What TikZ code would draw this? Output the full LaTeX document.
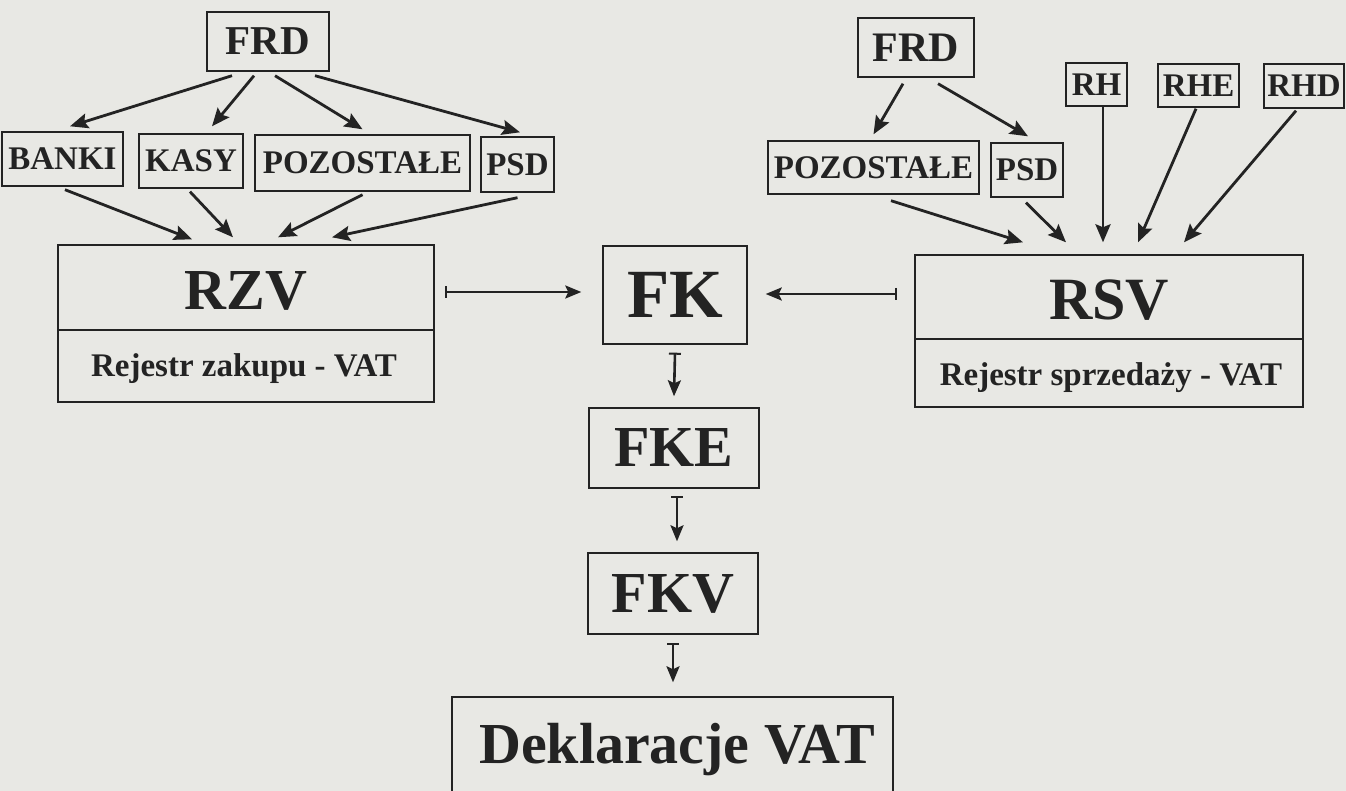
\documentclass[tikz,border=0pt]{standalone}
\usepackage{fontspec}
\setmainfont{Liberation Serif}
\usetikzlibrary{arrows.meta}
\definecolor{paper}{RGB}{232,232,228}
\definecolor{ink}{RGB}{35,35,35}
\newcommand{\myfs}[1]{\fontsize{#1}{#1}\selectfont\bfseries}
\begin{document}
\begin{tikzpicture}[x=1pt,y=-1pt,
  box/.style={draw=ink, line width=1.4pt, inner sep=0pt, text=ink},
  sm/.style={box, font=\myfs{33pt}},
  lbl/.style={text=ink, inner sep=0pt, anchor=base},
  arr/.style={draw=ink, line width=2.8pt, -{Stealth[length=18pt,width=15pt,inset=3pt]}},
  bararr/.style={draw=ink, line width=2.6pt, {Bar[width=12pt,line width=2pt]}-{Stealth[length=16pt,width=13pt,inset=3pt]}},
]
\fill[paper] (0,0) rectangle (1346,791);
\clip (0,0) rectangle (1346,791);

% ---------- left group ----------
\node[box, font=\myfs{41pt}, minimum width=122pt, minimum height=59pt] (frdL) at (268,41.5) {FRD};
\node[sm, minimum width=121pt, minimum height=54pt] (banki) at (62.5,159) {BANKI};
\node[sm, minimum width=104pt, minimum height=54pt] (kasy) at (191,161) {KASY};
\node[sm, minimum width=215pt, minimum height=56pt] (pozL) at (362.5,163) {POZOSTAŁE};
\node[sm, minimum width=73pt, minimum height=55pt] (psdL) at (517.5,164.5) {PSD};

\node[box, minimum width=376pt, minimum height=157pt] (rzv) at (246,323.5) {};
\coordinate (rzvdiv) at (246,330);
\draw[ink, line width=1.4pt] (rzv.west |- rzvdiv) -- (rzv.east |- rzvdiv);
\node[lbl, font=\myfs{58pt}] (rzvT) at (246,310) {RZV};
\node[lbl, font=\myfs{33pt}] (rzvB) at (244,377) {Rejestr zakupu - VAT};

\draw[arr] ([xshift=-36pt,yshift=-4pt]frdL.south) -- ([xshift=7.5pt,yshift=5pt]banki.north);
\draw[arr] ([xshift=-14pt,yshift=-4pt]frdL.south) -- ([xshift=21pt,yshift=7pt]kasy.north);
\draw[arr] ([xshift=7pt,yshift=-4pt]frdL.south) -- ([yshift=5pt]pozL.north);
\draw[arr] ([xshift=47pt,yshift=-4pt]frdL.south) -- ([xshift=2.5pt,yshift=4pt]psdL.north);

\draw[arr] ([xshift=2.5pt,yshift=-3pt]banki.south) -- ([xshift=-54pt,yshift=5pt]rzv.north);
\draw[arr] ([xshift=-1pt,yshift=-3pt]kasy.south) -- ([xshift=-13pt,yshift=7pt]rzv.north);
\draw[arr] ([yshift=-3pt]pozL.south) -- ([xshift=32pt,yshift=7pt]rzv.north);
\draw[arr] ([yshift=-5pt]psdL.south) -- ([xshift=86pt,yshift=7pt]rzv.north);

% ---------- right group ----------
\node[box, font=\myfs{42pt}, minimum width=116pt, minimum height=59pt] (frdR) at (916,47.5) {FRD};
\node[sm, minimum width=211pt, minimum height=53pt] (pozR) at (873.5,167.5) {POZOSTAŁE};
\node[sm, minimum width=72pt, minimum height=54pt] (psdR) at (1027,170) {PSD};
\node[sm, minimum width=61pt, minimum height=43pt] (rh) at (1096.5,84.5) {RH};
\node[sm, minimum width=81pt, minimum height=43pt] (rhe) at (1198.5,85.5) {RHE};
\node[sm, minimum width=80pt, minimum height=44pt] (rhd) at (1304,86) {RHD};

\node[box, minimum width=388pt, minimum height=152pt] (rsv) at (1109,331) {};
\coordinate (rsvdiv) at (1109,339);
\draw[ink, line width=1.4pt] (rsv.west |- rsvdiv) -- (rsv.east |- rsvdiv);
\node[lbl, font=\myfs{60pt}] (rsvT) at (1109,320) {RSV};
\node[lbl, font=\myfs{33pt}] (rsvB) at (1111,385) {Rejestr sprzedaży - VAT};

\draw[arr] ([xshift=-13pt,yshift=-6pt]frdR.south) -- ([yshift=6pt]pozR.north);
\draw[arr] ([xshift=22pt,yshift=-6pt]frdR.south) -- ([xshift=1pt,yshift=6pt]psdR.north);

\draw[arr] ([xshift=17.5pt,yshift=-6pt]pozR.south) -- ([xshift=-86pt,yshift=12pt]rsv.north);
\draw[arr] ([xshift=-1pt,yshift=-5pt]psdR.south) -- ([xshift=-43pt,yshift=12pt]rsv.north);
\draw[arr] ([xshift=6.5pt]rh.south) -- ([xshift=-6pt,yshift=12pt]rsv.north);
\draw[arr] ([xshift=-2.5pt,yshift=-1pt]rhe.south) -- ([xshift=29pt,yshift=12pt]rsv.north);
\draw[arr] ([xshift=-8pt,yshift=-2pt]rhd.south) -- ([xshift=75pt,yshift=12pt]rsv.north);

% ---------- middle column ----------
\node[box, font=\myfs{69pt}, minimum width=144pt, minimum height=98pt] (fk) at (675,295) {FK};
\node[box, font=\myfs{58pt}, minimum width=170pt, minimum height=80pt] (fke) at (674,448) {FKE};
\node[box, font=\myfs{58pt}, minimum width=170pt, minimum height=81pt] (fkv) at (673,593.5) {FKV};
\node[box, minimum width=441pt, minimum height=100pt] (dek) at (672.5,747) {};
\node[lbl, font=\myfs{58pt}] (dekT) at (677,763) {Deklaracje VAT};

\draw[bararr] ([xshift=10pt,yshift=3pt]rzv.east |- fk.west) -- ([xshift=-21pt,yshift=3pt]fk.west);
\draw[bararr] ([xshift=-17pt,yshift=1pt]rsv.west |- fk.east) -- ([xshift=18pt,yshift=1pt]fk.east);
\draw[bararr] ([yshift=-8pt]fk.south) -- ([yshift=11pt]fke.north);
\draw[bararr] ([xshift=3pt,yshift=-7pt]fke.south) -- ([xshift=3pt,yshift=11pt]fke.south |- fkv.north);
\draw[bararr] ([yshift=-8pt]fkv.south) -- ([yshift=14pt]fkv.south |- dek.north);
\end{tikzpicture}
\end{document}
